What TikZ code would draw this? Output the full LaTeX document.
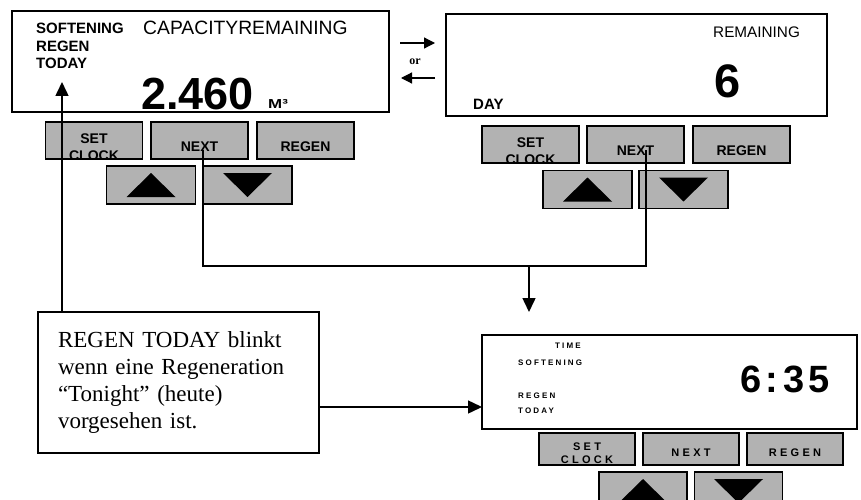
\documentclass[tikz,border=0pt]{standalone}
\usepackage{fontspec}
\setmainfont{Liberation Serif}
\newfontfamily\arial{Liberation Sans}
\usepackage{tikz}
\usetikzlibrary{arrows.meta,calc}
\definecolor{keyG}{RGB}{178,178,178}
\newcommand\keyfnt{\arial\bfseries\fontsize{14}{17}\selectfont}
\newcommand\keyspfnt{\arial\bfseries\addfontfeature{LetterSpace=30}\fontsize{11}{13}\selectfont}

\begin{document}
\begin{tikzpicture}[
  x=1pt, y=-1pt, >={Triangle[length=14pt,width=13pt]},
  lcd/.style={draw, line width=2.4pt, fill=white, inner sep=0pt, outer sep=0pt},
  keybox/.style={draw, line width=1.2pt, fill=keyG, inner sep=0pt, outer sep=0pt},
  key/.style={keybox, minimum width=97pt, minimum height=37pt,
    path picture={\node[align=center, inner sep=0pt, font=\keyfnt]
      at ([yshift=-6.5pt]path picture bounding box.center) {#1};}},
  keysp/.style={keybox, minimum width=96pt, minimum height=32pt,
    path picture={\node[align=center, inner sep=0pt, font=\keyspfnt]
      at ([yshift=-4pt]path picture bounding box.center) {#1};}},
  arrkey/.style={keybox, minimum width=89pt, minimum height=38pt},
  lbl/.style={font=\arial\bfseries\fontsize{15}{17}\selectfont, inner sep=0pt, anchor=west},
  captxt/.style={font=\arial\fontsize{19.3}{21}\selectfont, inner sep=0pt, anchor=west},
  big/.style={font=\arial\bfseries\fontsize{45}{50}\selectfont, inner sep=0pt, anchor=base west},
  sm/.style={font=\arial\bfseries\addfontfeature{LetterSpace=27}\fontsize{8}{10}\selectfont,
             inner sep=0pt, anchor=west},
  note/.style={draw, line width=1.5pt, fill=white, align=left, text width=241pt,
               inner xsep=20pt, minimum height=141pt, outer sep=0pt,
               font=\fontsize{23}{27.3}\selectfont},
  wire/.style={line width=1.5pt},
  orarr/.style={line width=1.2pt, >={Triangle[length=11pt,width=11pt]}, ->}]

  \useasboundingbox (0,0) rectangle (861,500);
  \clip (0,0) rectangle (861,500);

  % panel 1: capacity remaining
  \node[lcd, minimum width=377pt, minimum height=101pt] (d1) at (200.5,61.5) {};
  \node[lbl] (soft1) at (36,28) {SOFTENING};
  \node[lbl] (regen1) at (36,46.5) {REGEN};
  \node[lbl] (today1) at (36,63) {TODAY};
  \node[captxt] (cap1) at (143,28) {CAPACITYREMAINING};
  \node[big] (val1) at (141,110) {2.460};
  \node[font=\arial\bfseries\fontsize{13}{15}\selectfont, inner sep=0pt, anchor=base west]
    (unit1) at (268,109) {\scalebox{1.3}[1]{M³}};
  \node[key={SET\\CLOCK}] (sc1) at (94,140.5) {};
  \node[key={NEXT}] (nx1) at (199.5,140.5) {};
  \node[key={REGEN}] (rg1) at (305.5,140.5) {};
  \node[arrkey] (up1) at (151,185) {};
  \node[arrkey] (dn1) at (247.5,185) {};

  % panel 2: days remaining
  \node[lcd, minimum width=381pt, minimum height=102pt] (d2) at (636.5,65) {};
  \node[captxt, font=\arial\fontsize{15.3}{17}\selectfont] (rem2) at (713,32) {REMAINING};
  \node[big, font=\arial\bfseries\fontsize{47}{50}\selectfont, anchor=base] (val2) at (727.5,98) {6};
  \node[lbl, anchor=base west] (day2) at (473,110) {DAY};
  \node[key={SET\\CLOCK}] (sc2) at (530.5,144.5) {};
  \node[key={NEXT}] (nx2) at (635.5,144.5) {};
  \node[key={REGEN}] (rg2) at (741.5,144.5) {};
  \node[arrkey] (up2) at (587.5,189.5) {};
  \node[arrkey] (dn2) at (683.5,189.5) {};

  % panel 3: time of day
  \node[lcd, line width=2pt, minimum width=375pt, minimum height=94pt] (d3) at (669.5,382) {};
  \node[sm] (time3) at (555,346) {TIME};
  \node[sm] (soft3) at (518,363) {SOFTENING};
  \node[sm] (regen3) at (518,396) {REGEN};
  \node[sm] (today3) at (518,411) {TODAY};
  \node[big, font=\arial\bfseries\addfontfeature{LetterSpace=12}\fontsize{38}{40}\selectfont]
    (clk3) at (740,392) {6:35};
  \node[keysp={SET\\CLOCK}] (sc3) at (587,449) {};
  \node[keysp={NEXT}] (nx3) at (691,449) {};
  \node[keysp={REGEN}] (rg3) at (795,449) {};
  \node[arrkey, minimum width=88pt] (up3) at (643,491) {};
  \node[arrkey, minimum width=88pt] (dn3) at (738.5,491) {};

  \foreach \k in {1,2,3} {
    \fill ($(up\k.center)+(-24.5,12)$) -- ++(49,0) -- ++(-24.5,-24) -- cycle;
    \fill ($(dn\k.center)+(-24.5,-12)$) -- ++(49,0) -- ++(-24.5,24) -- cycle;
  }

  % or
  \node[font=\bfseries\fontsize{12}{14}\selectfont, inner sep=0pt] (or) at (415,62) {or};
  \draw[orarr] ([shift={(-15,-19)}]or.center) -- ++(35,0);
  \draw[orarr] ([shift={(20,16)}]or.center) -- ++(-34,0);

  % NEXT leads to the clock panel
  \coordinate (n1) at ([shift={(3.5,9)}]nx1.center);
  \coordinate (n2) at ([shift={(10.5,5.5)}]nx2.center);
  \coordinate (j) at (529,266);
  \draw[wire] (n1) |- (j) -| (n2);
  \draw[wire, ->] (j) -- ++(0,46);

  % callout
  \node[note] (note) at (178.5,382.5)
    {REGEN TODAY blinkt\\wenn eine Regeneration\\“Tonight” (heute)\\vorgesehen ist.};
  \draw[wire, ->] ([xshift=24pt]note.north west) -- ++(0,-230);
  \draw[wire, ->] ([yshift=-24.5pt]note.east) -- ([yshift=-24.5pt]note.east -| d3.west);
\end{tikzpicture}
\end{document}
